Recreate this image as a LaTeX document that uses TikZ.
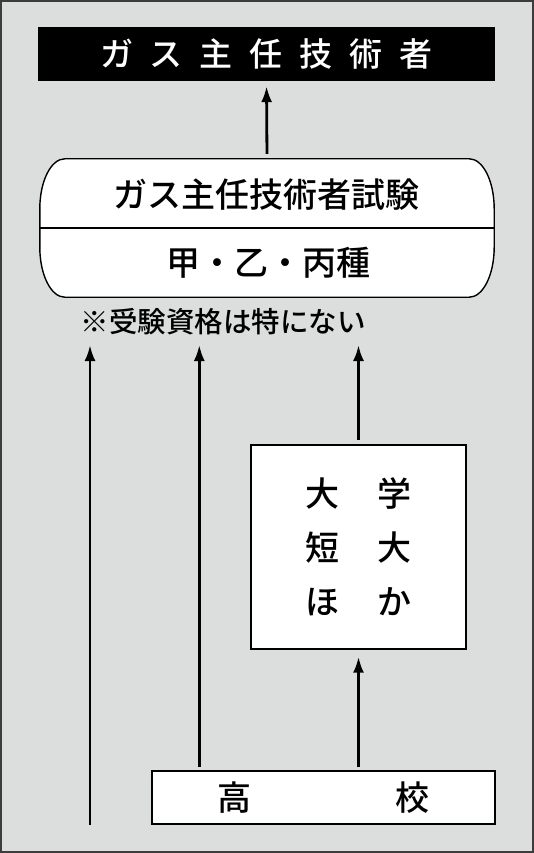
\documentclass[tikz,border=0pt]{standalone}
\usepackage{fontspec}
\setmainfont{Noto Sans CJK JP Medium}
\usetikzlibrary{arrows.meta}
\definecolor{bggray}{HTML}{DCDDDD}
\definecolor{edgegray}{HTML}{3C3C3C}
\newcommand{\gap}[1]{\hspace{#1}}

\begin{document}
\begin{tikzpicture}[x=1pt,y=-1pt,
  box/.style={draw=black,line width=1.4pt,fill=white,inner sep=0pt},
  uparrow/.style={line width=2.8pt,-{Latex[length=16pt,width=11pt]}},
  jp/.style={font=\fontsize{34}{40}\selectfont}]

\useasboundingbox (0,0) rectangle (534,853) ;
\draw [fill=bggray,draw=edgegray,line width=2pt] (1,1) rectangle (533,852) ;

\node (title) [fill=black,minimum width=457pt,minimum height=54pt,text=white,
  font=\fontsize{33}{36}\selectfont] at (266.5,54)
  {ガ\gap{17pt}ス\gap{17pt}主\gap{17pt}任\gap{17pt}技\gap{17pt}術\gap{17pt}者} ;

\node (exam) [minimum width=454pt,minimum height=138pt,inner sep=0pt] at (267,228) {} ;
\draw [box] ([xshift=25pt]exam.north west) -- ([xshift=-25pt]exam.north east)
  arc [start angle=90,end angle=0,x radius=25pt,y radius=50pt]
  -- ([yshift=50pt]exam.south east)
  arc [start angle=0,end angle=-90,x radius=25pt,y radius=50pt]
  -- ([xshift=25pt]exam.south west)
  arc [start angle=-90,end angle=-180,x radius=25pt,y radius=50pt]
  -- ([yshift=-50pt]exam.north west)
  arc [start angle=180,end angle=90,x radius=25pt,y radius=50pt] -- cycle ;
\draw [line width=1.4pt] (exam.west) -- (exam.east) ;

\node (examname) [jp] at (266,195) {ガス主任技術者試験} ;
\node (examkind) [jp] at (268.5,263) {甲・乙・丙種} ;

\node (note) [font=\fontsize{28.5}{32}\selectfont] at (223,322) {※受験資格は特にない} ;
\coordinate (notebase) at (0,345) ;

\node (univ) [box,minimum width=215pt,minimum height=204pt,align=center,
  font=\fontsize{34}{54}\selectfont] at (358.5,547)
  {大\gap{38pt}学\\短\gap{38pt}大\\ほ\gap{38pt}か} ;
\node (school) [box,minimum width=343pt,minimum height=53pt,jp] at (323.5,797.5)
  {高\gap{144pt}校} ;

\coordinate (start) at (90,825) ;
\coordinate (schoolleft) at ([xshift=48pt]school.north west) ;

\draw [uparrow,shorten <=5pt,shorten >=5pt] (exam.north) -- (title.south) ;

\draw [uparrow] (start) -- (start |- notebase) ;
\draw [uparrow,shorten <=3pt] (schoolleft) -- (schoolleft |- notebase) ;
\draw [uparrow,shorten <=4pt] (univ.north) -- (univ.north |- notebase) ;
\draw [uparrow,shorten <=3pt,shorten >=7pt] (school.north -| univ.south) -- (univ.south) ;

\end{tikzpicture}
\end{document}
